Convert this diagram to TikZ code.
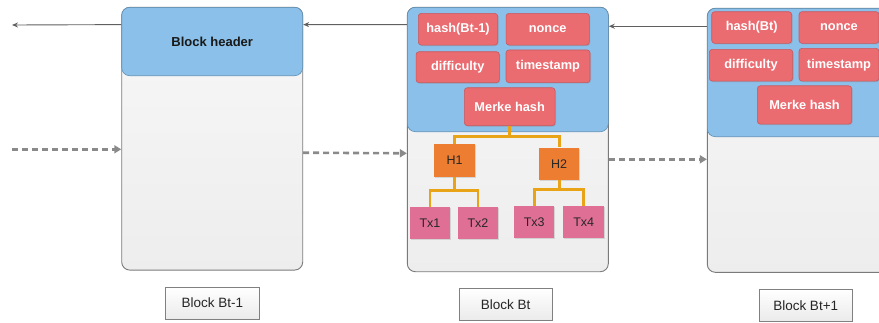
\documentclass[tikz,border=0pt]{standalone}
\usepackage{fontspec}
\setmainfont{Liberation Sans}
\usetikzlibrary{arrows.meta,shadows,calc}
\definecolor{hdrblue}{HTML}{8AC0E9}
\definecolor{hdrborder}{HTML}{5E8FB5}
\definecolor{bodyborder}{HTML}{7A7A7A}
\definecolor{redfill}{HTML}{EA6B70}
\definecolor{redborder}{HTML}{C9585D}
\definecolor{hfill}{HTML}{ED7D31}
\definecolor{txfill}{HTML}{E06F96}
\definecolor{treeline}{HTML}{E8A317}
\definecolor{arrowgray}{HTML}{606060}
\definecolor{dashgray}{HTML}{8A8A8A}
\tikzset{
  blockbody/.style={draw=bodyborder, line width=0.9pt, rounded corners=8pt,
    top color=white!97!black, bottom color=white!93!black, inner sep=0pt},
  hdrbox/.style={draw=hdrborder, line width=0.6pt, fill=hdrblue, rounded corners=8pt, inner sep=0pt,
    font=\fontsize{13}{15}\selectfont\bfseries, text=black!90},
  redbox/.style={draw=redborder, line width=0.6pt, fill=redfill, rounded corners=3pt, inner sep=0pt,
    font=\fontsize{12.8}{15}\selectfont\bfseries, text=white,
    drop shadow={shadow xshift=1pt, shadow yshift=-1pt, opacity=0.25}},
  hbox/.style={fill=hfill, inner sep=0pt, minimum width=40.5, minimum height=32.4,
    font=\fontsize{12.5}{14}\selectfont, text=black!85,
    drop shadow={shadow xshift=1pt, shadow yshift=-1pt, opacity=0.25}},
  txbox/.style={fill=txfill, inner sep=0pt, minimum width=40.5, minimum height=32.6,
    font=\fontsize{12.5}{14}\selectfont, text=black!85,
    drop shadow={shadow xshift=1pt, shadow yshift=-1pt, opacity=0.25}},
  lblbox/.style={draw=black!50, line width=0.7pt, top color=white, bottom color=white!92!black,
    inner sep=0pt, minimum width=93.3, minimum height=32,
    font=\fontsize{13.5}{15}\selectfont, text=black!85},
  tree/.style={draw=treeline, line width=2.6pt},
  solidarrow/.style={draw=arrowgray, line width=0.9pt, -{Stealth[length=6pt,width=5pt]}},
  dasharrow/.style={draw=dashgray, line width=2.6pt, dash pattern=on 6pt off 4pt,
    -{Triangle[length=7pt,width=8pt]}},
}
\begin{document}
\begin{tikzpicture}[x=1pt,y=-1pt]
\useasboundingbox (0,0) rectangle (879,322);
\clip (0,0) rectangle (879,322);

% ---- Block Bt-1
\node[blockbody, minimum width=181, minimum height=262.7] (b1) at (212.2,138.7) {};
\node[hdrbox, minimum width=181, minimum height=68.4] (b1h) at (212.2,41.5) {Block header};
\node[lblbox] (l1) at (212.3,303) {Block Bt-1};

% ---- Block Bt
\node[blockbody, minimum width=201, minimum height=264.4] (b2) at (507.8,139.5) {};
\node[hdrbox, minimum width=201, minimum height=124.4] (b2h) at (507.8,69.5) {};
\node[redbox, minimum width=79.4, minimum height=31.7] (hb2) at (458,29.2) {hash(Bt-1)};
\node[redbox, minimum width=83.3, minimum height=31.7] (no2) at (547.7,29.2) {nonce};
\node[redbox, minimum width=83.3, minimum height=31] (di2) at (457.7,67.2) {difficulty};
\node[redbox, minimum width=84, minimum height=32.7] (ts2) at (548,66.3) {timestamp};
\node[redbox, minimum width=90.7, minimum height=38] (mh2) at (509.7,106.7) {Merke hash};
\node[hbox] (h1) at (454.7,160.5) {H1};
\node[hbox] (h2) at (559.2,163.8) {H2};
\node[txbox] (tx1) at (430,223) {Tx1};
\node[txbox] (tx2) at (478,223) {Tx2};
\node[txbox] (tx3) at (534.2,222) {Tx3};
\node[txbox] (tx4) at (583.7,222) {Tx4};
\node[lblbox] (l2) at (505.7,304.2) {Block Bt};

% tree connectors
\coordinate (j0) at (509.7,136.7);
\coordinate (j1) at (454.7,190.7);
\coordinate (j2) at (559.2,189.3);
\draw[tree] (mh2.south) -- (j0);
\draw[tree] (j0) -| (h1.north);
\draw[tree] (j0) -| (h2.north);
\draw[tree] (h1.south) -- (j1);
\draw[tree] (j1) -| (tx1.north);
\draw[tree] (j1) -| (tx2.north);
\draw[tree] (h2.south) -- (j2);
\draw[tree] (j2) -| (tx3.north);
\draw[tree] (j2) -| (tx4.north);

% ---- Block Bt+1
\node[blockbody, minimum width=201, minimum height=264] (b3) at (807.8,140.3) {};
\node[hdrbox, minimum width=201, minimum height=128.4] (b3h) at (807.8,72.5) {};
\node[redbox, minimum width=80, minimum height=31.6] (hb3) at (751.7,27.5) {hash(Bt)};
\node[redbox, minimum width=80, minimum height=31.6] (no3) at (839,27.5) {nonce};
\node[redbox, minimum width=83.4, minimum height=31.7] (di3) at (751,65.2) {difficulty};
\node[redbox, minimum width=80, minimum height=32.7] (ts3) at (839,64.7) {timestamp};
\node[redbox, minimum width=94.4, minimum height=38.3] (mh3) at (804.5,104.9) {Merke hash};
\node[lblbox] (l3) at (805.7,305.2) {Block Bt+1};

% ---- chain arrows
\coordinate (lout) at (12,25);
\coordinate (lin) at (12,149.3);
\draw[solidarrow] ([yshift=-17.7pt]b1.north west) -- (lout);
\draw[solidarrow] ([yshift=-17.7pt]b2.north west) -- ([yshift=-17.7pt]b1.north east);
\draw[solidarrow] ([yshift=-18.4pt]b3.north west) -- ([yshift=-19.4pt]b2.north east);
\draw[dasharrow] (lin) -- (b1.west |- lin);
\draw[dasharrow] ([yshift=-14pt]b1.east) -- ([yshift=-13.8pt]b2.west);
\draw[dasharrow] ([yshift=-19.8pt]b2.east) -- ([yshift=-19pt]b3.west);
\end{tikzpicture}
\end{document}
